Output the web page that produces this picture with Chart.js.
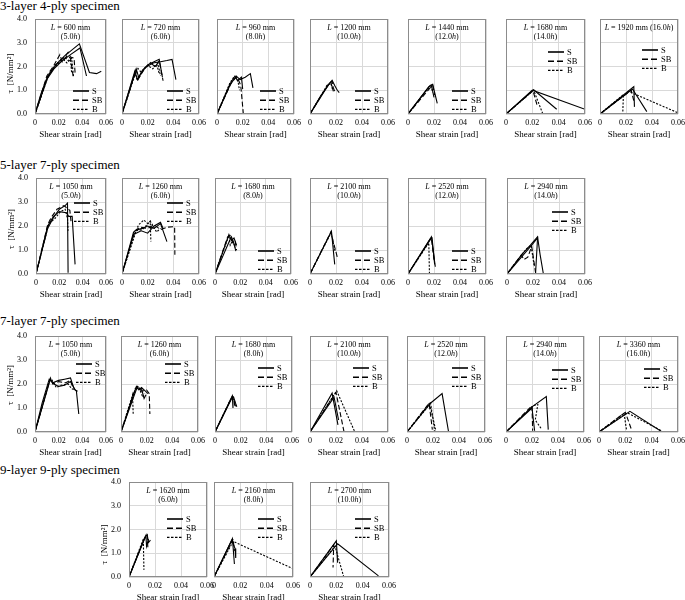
<!DOCTYPE html>
<html>
<head>
<meta charset="utf-8">
<script src="https://cdn.jsdelivr.net/npm/chart.js@4.4.1/dist/chart.umd.min.js"></script>
<style>
html, body { margin: 0; padding: 0; background: #fff; }
#wrap { position: relative; width: 685px; height: 600px; overflow: hidden; font-family: 'Liberation Serif', 'Times New Roman', serif; }
.sec { position: absolute; left: 0; font-size: 13px; line-height: 13px; color: #000; white-space: nowrap; }
canvas { position: absolute; }
</style>
</head>
<body>
<div id="wrap"></div>
<script>
// axis ticks and legend
const xTickVals = [0, 0.02, 0.04, 0.06];
const xTickLabels = ['0', '0.02', '0.04', '0.06'];
const yTickVals = [0, 1, 2, 3, 4];
const yTickLabels = ['0.0', '1.0', '2.0', '3.0', '4.0'];
const legendLabels = ['S', 'SB', 'B'];
const rowTitles = ['3-layer 4-ply specimen', '5-layer 7-ply specimen', '7-layer 7-ply specimen', '9-layer 9-ply specimen'];

const row1Lengths = [600, 720, 960, 1200, 1440, 1680, 1920];
const row1Ratios = ['5.0', '6.0', '8.0', '10.0', '12.0', '14.0', '16.0'];
const row2Lengths = [1050, 1260, 1680, 2100, 2520, 2940];
const row2Ratios = ['5.0', '6.0', '8.0', '10.0', '12.0', '14.0'];
const row3Lengths = [1050, 1260, 1680, 2100, 2520, 2940, 3360];
const row3Ratios = ['5.0', '6.0', '8.0', '10.0', '12.0', '14.0', '16.0'];
const row4Lengths = [1620, 2160, 2700];
const row4Ratios = ['6.0', '8.0', '10.0'];

// curves: [shear strain, tau]
const r1_600_S = [
  [[0,0],[0.005,0.85],[0.01,1.5],[0.015,1.9],[0.02,2.2],[0.025,2.45],[0.03,2.65],[0.0375,2.95],[0.046,1.75],[0.052,1.7],[0.056,1.8]],
  [[0,0],[0.01,1.45],[0.016,1.9],[0.022,2.2],[0.03,2.5],[0.038,2.78],[0.0435,1.6]]
];
const r1_600_SB = [
  [[0,0],[0.01,1.6],[0.016,2.05],[0.021,2.5],[0.023,2.2],[0.027,2.45],[0.03,2.35],[0.0325,1.5]],
  [[0,0],[0.011,1.6],[0.018,2.1],[0.024,2.35],[0.028,2.6],[0.03,2.4],[0.033,2.35],[0.034,1.65]]
];
const r1_600_B = [
  [[0,0],[0.01,1.5],[0.016,2.0],[0.021,2.25],[0.025,2.4],[0.028,2.25],[0.031,2.35],[0.0325,1.6]],
  [[0,0],[0.012,1.7],[0.018,2.05],[0.024,2.3],[0.027,2.15],[0.03,2.3],[0.031,1.7]]
];
const r1_720_S = [
  [[0,0],[0.011,1.9],[0.013,1.55],[0.018,1.95],[0.024,2.15],[0.03,2.2],[0.035,2.25],[0.039,2.3],[0.042,1.45]],
  [[0,0],[0.01,1.8],[0.012,1.45],[0.016,1.85],[0.021,2.1],[0.025,2.2],[0.029,2.3],[0.0315,1.55]]
];
const r1_720_SB = [
  [[0,0],[0.011,1.85],[0.013,1.5],[0.018,1.95],[0.022,2.15],[0.026,2.0],[0.029,2.25],[0.032,1.4]]
];
const r1_720_B = [
  [[0,0],[0.01,1.75],[0.012,1.4],[0.017,1.9],[0.023,2.2],[0.026,1.95],[0.028,2.15],[0.03,1.6]],
  [[0,0],[0.012,1.95],[0.015,1.75],[0.02,2.05],[0.024,1.9],[0.027,2.1],[0.029,1.7]]
];
const r1_960_S = [
  [[0,0],[0.01,1.2],[0.015,1.6],[0.018,1.45],[0.022,1.55],[0.026,1.7],[0.028,1.1]],
  [[0,0],[0.01,1.25],[0.014,1.6],[0.016,1.4],[0.019,1.55],[0.02,1.05]]
];
const r1_960_SB = [
  [[0,0],[0.011,1.3],[0.015,1.55],[0.017,1.4],[0.0185,1.2],[0.0205,0.02]]
];
const r1_960_B = [
  [[0,0],[0.01,1.3],[0.013,1.55],[0.016,1.5],[0.0175,1.0]]
];
const r1_1200_S = [
  [[0,0],[0.008,0.75],[0.014,1.2],[0.017,1.42],[0.019,1.2],[0.021,1.0],[0.0225,0.9]],
  [[0,0],[0.015,1.3],[0.016,1.35],[0.018,0.95]]
];
const r1_1200_SB = [
  [[0,0],[0.014,1.25],[0.017,1.38],[0.018,1.1],[0.019,0.95]]
];
const r1_1200_B = [
  [[0,0],[0.013,1.2],[0.016,1.3],[0.0175,1.0]]
];
const r1_1440_S = [
  [[0,0],[0.017,1.2],[0.019,1.25],[0.0225,0.45]],
  [[0,0],[0.016,1.15],[0.018,1.2],[0.02,0.7]]
];
const r1_1440_SB = [
  [[0,0],[0.017,1.1],[0.019,1.2],[0.0205,0.8]]
];
const r1_1440_B = [
  [[0,0],[0.015,1.05],[0.018,1.15],[0.019,0.9]]
];
const r1_1680_S = [
  [[0,0],[0.02,1.0],[0.06,0.2]],
  [[0,0],[0.021,1.02],[0.0385,0.2]]
];
const r1_1680_SB = [
  [[0,0],[0.0205,0.98],[0.024,0.3]]
];
const r1_1680_B = [
  [[0,0],[0.021,1.0],[0.028,0.0]]
];
const r1_1920_S = [
  [[0,0],[0.026,1.15],[0.0265,0.3]],
  [[0,0],[0.025,1.05],[0.036,0.1]]
];
const r1_1920_SB = [
  [[0,0],[0.024,1.0],[0.026,0.55]]
];
const r1_1920_B = [
  [[0,0],[0.018,0.82],[0.0175,0.0]],
  [[0,0],[0.022,0.95],[0.06,0.05]]
];

const r2_1050_S = [
  [[0,0],[0.01,1.9],[0.015,2.35],[0.02,2.7],[0.025,2.85],[0.027,2.95],[0.0275,0.05]],
  [[0,0],[0.01,2.0],[0.015,2.4],[0.02,2.6],[0.026,2.55],[0.028,2.4],[0.031,2.4],[0.0335,0.4]]
];
const r2_1050_SB = [
  [[0,0],[0.01,2.05],[0.013,2.35],[0.018,2.7],[0.024,2.85],[0.029,2.65],[0.03,2.2]]
];
const r2_1050_B = [
  [[0,0],[0.011,2.1],[0.016,2.3],[0.021,2.6],[0.025,2.7],[0.027,2.3],[0.0275,1.8]]
];
const r2_1260_S = [
  [[0,0],[0.009,1.75],[0.012,1.85],[0.016,1.9],[0.02,2.0],[0.025,1.9],[0.03,2.1],[0.035,1.35]],
  [[0,0],[0.009,1.65],[0.015,1.8],[0.02,1.7],[0.025,2.0],[0.03,2.15],[0.032,1.9]]
];
const r2_1260_SB = [
  [[0,0],[0.01,1.8],[0.014,1.95],[0.02,1.9],[0.025,2.05],[0.03,1.85],[0.035,1.95],[0.041,1.97],[0.0412,0.8]]
];
const r2_1260_B = [
  [[0,0],[0.01,1.7],[0.013,2.05],[0.017,2.25],[0.02,2.1],[0.022,2.2],[0.0225,1.35]],
  [[0,0],[0.011,1.8],[0.016,1.85],[0.022,2.2],[0.027,1.75],[0.03,1.9]]
];
const r2_1680_S = [
  [[0,0],[0.011,1.65],[0.013,1.4],[0.015,1.5],[0.017,1.2]],
  [[0,0],[0.012,1.45],[0.013,1.55],[0.015,1.25],[0.0165,0.95]]
];
const r2_1680_SB = [
  [[0,0],[0.01,1.55],[0.012,1.6],[0.014,1.3],[0.016,1.35],[0.017,1.0]]
];
const r2_1680_B = [
  [[0,0],[0.011,1.6],[0.012,1.2],[0.014,1.4],[0.016,1.1]]
];
const r2_2100_S = [
  [[0,0],[0.0165,1.78],[0.019,0.4]]
];
const r2_2100_SB = [
  [[0,0],[0.016,1.75],[0.021,0.7]]
];
const r2_2100_B = [
  [[0,0],[0.0162,1.72],[0.0195,0.9]]
];
const r2_2520_S = [
  [[0,0],[0.018,1.55],[0.021,0.3]],
  [[0,0],[0.017,1.45],[0.0185,1.5],[0.0205,0.4]]
];
const r2_2520_SB = [
  [[0,0],[0.018,1.5],[0.02,0.6]]
];
const r2_2520_B = [
  [[0,0],[0.016,1.3],[0.0165,0.0]]
];
const r2_2940_S = [
  [[0,0],[0.012,0.85],[0.018,1.2],[0.0235,1.55],[0.0255,0.8],[0.028,0.0]],
  [[0,0],[0.019,1.2],[0.0235,1.5],[0.022,0.05]]
];
const r2_2940_SB = [
  [[0,0],[0.011,0.8],[0.013,0.6],[0.016,0.7],[0.019,1.15],[0.022,0.05]]
];
const r2_2940_B = [
  [[0,0],[0.012,0.85],[0.015,1.05],[0.0185,1.2],[0.021,0.3]]
];

const r3_1050_S = [
  [[0,0],[0.006,1.2],[0.012,2.2],[0.015,2.05],[0.02,2.15],[0.025,2.2],[0.03,2.25],[0.033,1.8],[0.035,1.7],[0.037,0.75]],
  [[0,0],[0.013,2.2],[0.016,2.0],[0.02,1.9],[0.025,1.95],[0.03,2.1],[0.034,1.75],[0.036,1.7]]
];
const r3_1050_SB = [
  [[0,0],[0.013,2.25],[0.015,2.0],[0.02,2.1],[0.026,2.05],[0.03,2.15],[0.032,1.85]]
];
const r3_1050_B = [
  [[0,0],[0.012,2.1],[0.014,2.2],[0.018,1.85],[0.022,1.95],[0.028,2.0],[0.031,1.8],[0.034,1.75]]
];
const r3_1260_S = [
  [[0,0],[0.012,1.9],[0.014,1.75],[0.016,1.85],[0.019,1.7],[0.021,1.6]],
  [[0,0],[0.0125,1.85],[0.016,1.8],[0.018,1.4],[0.0195,1.55]]
];
const r3_1260_SB = [
  [[0,0],[0.011,1.8],[0.013,1.9],[0.016,1.7],[0.02,1.75],[0.022,1.6],[0.0225,0.75]]
];
const r3_1260_B = [
  [[0,0],[0.009,1.55],[0.0095,0.75]],
  [[0,0],[0.011,1.75],[0.014,1.85],[0.017,1.45],[0.0185,1.6]]
];
const r3_1680_S = [
  [[0,0],[0.0135,1.5],[0.014,1.0]],
  [[0,0],[0.013,1.4],[0.0145,1.45],[0.016,1.2],[0.017,1.05]]
];
const r3_1680_SB = [
  [[0,0],[0.0135,1.5],[0.015,1.3],[0.0155,1.0]]
];
const r3_1680_B = [
  [[0,0],[0.0125,1.4],[0.015,1.35],[0.016,1.05]]
];
const r3_2100_S = [
  [[0,0],[0.017,1.62],[0.0215,0.3]],
  [[0,0],[0.0185,1.45],[0.022,0.5]]
];
const r3_2100_SB = [
  [[0,0],[0.02,1.65],[0.0262,0.0]]
];
const r3_2100_B = [
  [[0,0],[0.0205,1.72],[0.0345,0.0]]
];
const r3_2520_S = [
  [[0,0],[0.018,1.2],[0.027,1.6],[0.032,0.0]]
];
const r3_2520_SB = [
  [[0,0],[0.017,1.2],[0.0195,0.1]]
];
const r3_2520_B = [
  [[0,0],[0.018,1.25],[0.0215,0.0]],
  [[0,0],[0.0175,1.15],[0.022,0.1]]
];
const r3_2940_S = [
  [[0,0],[0.02,1.05],[0.031,1.48],[0.0325,0.1]],
  [[0,0],[0.02,1.0],[0.022,0.05]]
];
const r3_2940_SB = [
  [[0,0],[0.02,1.1],[0.0205,0.05]]
];
const r3_2940_B = [
  [[0,0],[0.021,1.1],[0.0245,1.15],[0.0225,0.5],[0.027,0.15]]
];
const r3_3360_S = [
  [[0,0],[0.0235,0.86],[0.048,0.0]]
];
const r3_3360_SB = [
  [[0,0],[0.02,0.82],[0.025,0.05]]
];
const r3_3360_B = [
  [[0,0],[0.0215,0.8],[0.0475,0.05]],
  [[0,0],[0.019,0.78],[0.021,0.05]]
];

const r4_1620_S = [
  [[0,0],[0.0125,1.7],[0.014,1.78],[0.015,1.45],[0.0165,1.55]],
  [[0,0],[0.013,1.75],[0.0135,1.3],[0.015,1.6]]
];
const r4_1620_SB = [
  [[0,0],[0.012,1.65],[0.014,1.75],[0.0145,1.25]]
];
const r4_1620_B = [
  [[0,0],[0.011,1.6],[0.0115,0.3]]
];
const r4_2160_S = [
  [[0,0],[0.014,1.62],[0.0155,0.55]],
  [[0,0],[0.0135,1.55],[0.016,1.2],[0.0165,0.8]]
];
const r4_2160_SB = [
  [[0,0],[0.0145,1.6],[0.0155,1.1]]
];
const r4_2160_B = [
  [[0,0],[0.0145,1.5],[0.06,0.35]]
];
const r4_2700_S = [
  [[0,0],[0.021,1.4],[0.052,0.05]],
  [[0,0],[0.02,1.52],[0.021,0.6]]
];
const r4_2700_SB = [
  [[0,0],[0.018,1.35],[0.0175,0.4]]
];
const r4_2700_B = [
  [[0,0],[0.019,1.3],[0.0205,1.0],[0.0255,0.03]]
];

const row1Data = [[r1_600_S, r1_600_SB, r1_600_B], [r1_720_S, r1_720_SB, r1_720_B], [r1_960_S, r1_960_SB, r1_960_B],
  [r1_1200_S, r1_1200_SB, r1_1200_B], [r1_1440_S, r1_1440_SB, r1_1440_B], [r1_1680_S, r1_1680_SB, r1_1680_B], [r1_1920_S, r1_1920_SB, r1_1920_B]];
const row2Data = [[r2_1050_S, r2_1050_SB, r2_1050_B], [r2_1260_S, r2_1260_SB, r2_1260_B], [r2_1680_S, r2_1680_SB, r2_1680_B],
  [r2_2100_S, r2_2100_SB, r2_2100_B], [r2_2520_S, r2_2520_SB, r2_2520_B], [r2_2940_S, r2_2940_SB, r2_2940_B]];
const row3Data = [[r3_1050_S, r3_1050_SB, r3_1050_B], [r3_1260_S, r3_1260_SB, r3_1260_B], [r3_1680_S, r3_1680_SB, r3_1680_B],
  [r3_2100_S, r3_2100_SB, r3_2100_B], [r3_2520_S, r3_2520_SB, r3_2520_B], [r3_2940_S, r3_2940_SB, r3_2940_B], [r3_3360_S, r3_3360_SB, r3_3360_B]];
const row4Data = [[r4_1620_S, r4_1620_SB, r4_1620_B], [r4_2160_S, r4_2160_SB, r4_2160_B], [r4_2700_S, r4_2700_SB, r4_2700_B]];

// layout (pixels)
const rows = [
  { title: 9.5, top: 19, bottom: 114, yTitleShift: 7, lefts: [35, 122, 217, 310, 408, 506, 600], rights: [106, 199, 294, 388, 486, 585, 678],
    leg: [[38, 72], [45, 72], [43, 72], [45, 72], [44, 72], [42, 33], [42, 31]], lengths: row1Lengths, ratios: row1Ratios, data: row1Data },
  { title: 168.5, top: 178, bottom: 274, yTitleShift: 3, lefts: [36, 122, 215, 310, 408, 507], rights: [106, 199, 291, 388, 486, 585],
    leg: [[38, 25], [45, 25], [43, 73], [45, 73], [44, 73], [45, 34]], lengths: row2Lengths, ratios: row2Ratios, data: row2Data },
  { title: 325, top: 336, bottom: 432, yTitleShift: 1, lefts: [35, 121, 215, 310, 407, 506, 599], rights: [106, 198, 292, 388, 485, 584, 678],
    leg: [[41, 28], [44, 28], [43, 32], [43, 32], [45, 32], [46, 34], [45, 33]], lengths: row3Lengths, ratios: row3Ratios, data: row3Data },
  { title: 474, top: 482, bottom: 577, yTitleShift: 15, lefts: [129, 214, 310], rights: [207, 293, 389],
    leg: [[38, 37], [44, 37], [45, 37]], lengths: row4Lengths, ratios: row4Ratios, data: row4Data }
];

const FONT = "'Liberation Serif', 'Times New Roman', serif";
const dashes = [[], [5, 2.5], [2, 1.5]];
const wrap = document.getElementById('wrap');

function drawRich(ctx, parts, cx, cy, size) {
  let w = 0;
  parts.forEach(([t, it]) => { ctx.font = (it ? 'italic ' : '') + size + 'px ' + FONT; w += ctx.measureText(t).width; });
  let x = cx - w / 2;
  parts.forEach(([t, it]) => {
    ctx.font = (it ? 'italic ' : '') + size + 'px ' + FONT;
    ctx.fillText(t, x, cy);
    x += ctx.measureText(t).width;
  });
}

function makePanel(p) {
  const yW = p.yAxis ? 35 : 0;
  const padL = p.yAxis ? 0 : 10, padR = 12, padT = 16, xH = 26;
  const plotW = p.right - p.left, plotH = p.bottom - p.top;
  const canvas = document.createElement('canvas');
  canvas.width = padL + yW + plotW + padR;
  canvas.height = padT + plotH + xH;
  canvas.style.left = (p.left - yW - padL) + 'px';
  canvas.style.top = (p.top - padT) + 'px';
  wrap.appendChild(canvas);

  const datasets = [];
  p.series.forEach((curves, k) => {
    curves.forEach(c => {
      datasets.push({
        data: c.map(([x, y]) => ({ x, y })),
        showLine: true, borderColor: '#000', borderWidth: 1.1, borderDash: dashes[k],
        pointRadius: 0, fill: false
      });
    });
  });

  const deco = {
    id: 'deco',
    afterDraw(chart) {
      const a = chart.chartArea, ctx = chart.ctx;
      ctx.save();
      ctx.strokeStyle = '#8c8c8c';
      ctx.lineWidth = 1;
      ctx.strokeRect(Math.round(a.left) + 0.5, Math.round(a.top) + 0.5, Math.round(a.right - a.left) - 1, Math.round(a.bottom - a.top) - 1);
      ctx.fillStyle = '#000';
      ctx.textBaseline = 'middle';
      const cx = (a.left + a.right) / 2;
      if (p.oneLine) {
        drawRich(ctx, [['L', true], [' = ' + p.length + ' mm (' + p.ratio, false], ['h', true], [')', false]], cx, a.top + 9, 8);
      } else {
        drawRich(ctx, [['L', true], [' = ' + p.length + ' mm', false]], cx, a.top + 9, 8);
        drawRich(ctx, [['(' + p.ratio, false], ['h', true], [')', false]], cx, a.top + 17.5, 8);
      }
      // y axis title, a little below the middle like the source
      if (p.yAxis) {
        ctx.save();
        ctx.translate(a.left - 24, (a.top + a.bottom) / 2 + p.yTitleShift);
        ctx.rotate(-Math.PI / 2);
        ctx.textAlign = 'center';
        ctx.font = '9px ' + FONT;
        ctx.fillText('τ  [N/mm²]', 0, 0);
        ctx.restore();
      }
      // legend
      const lx = a.left + p.leg[0];
      legendLabels.forEach((lab, i) => {
        const ly = a.top + p.leg[1] + i * 9.2;
        ctx.beginPath();
        ctx.setLineDash(i === 0 ? [] : (i === 1 ? [6, 3] : [2.5, 1.5]));
        ctx.lineWidth = i === 2 ? 1.2 : 1.6;
        ctx.strokeStyle = '#000';
        ctx.moveTo(lx, ly);
        ctx.lineTo(lx + 16, ly);
        ctx.stroke();
        ctx.setLineDash([]);
        ctx.font = '8.5px ' + FONT;
        ctx.textAlign = 'left';
        ctx.fillText(lab, lx + 19, ly + 0.5);
      });
      ctx.restore();
    }
  };

  new Chart(canvas.getContext('2d'), {
    type: 'scatter',
    data: { datasets },
    options: {
      responsive: false, animation: false, devicePixelRatio: 1,
      layout: { padding: { left: padL, right: padR, top: padT, bottom: 0 } },
      plugins: { legend: { display: false }, tooltip: { enabled: false } },
      scales: {
        x: {
          type: 'linear', min: 0, max: 0.06,
          afterBuildTicks: s => { s.ticks = xTickVals.map(v => ({ value: v })); },
          ticks: { callback: (v, i) => xTickLabels[i], font: { family: FONT, size: 8 }, color: '#000', padding: 4, maxRotation: 0, autoSkip: false },
          grid: { color: '#d9d9d9', drawTicks: false, lineWidth: 1 },
          border: { display: false },
          title: { display: true, text: 'Shear strain [rad]', font: { family: FONT, size: 9 }, color: '#000', padding: 0 },
          afterFit: s => { s.height = xH; }
        },
        y: {
          min: 0, max: 4,
          afterBuildTicks: s => { s.ticks = yTickVals.map(v => ({ value: v })); },
          ticks: { display: p.yAxis, callback: (v, i) => yTickLabels[i], font: { family: FONT, size: 8 }, color: '#000', padding: 8 },
          grid: { color: '#d9d9d9', drawTicks: false, lineWidth: 1 },
          border: { display: false },
          title: { display: false },
          afterFit: s => { s.width = yW; }
        }
      }
    },
    plugins: [deco]
  });
}

rows.forEach((r, ri) => {
  const t = document.createElement('div');
  t.className = 'sec';
  t.textContent = rowTitles[ri];
  t.style.top = (r.title - 10.9) + 'px';
  wrap.appendChild(t);
  r.lefts.forEach((left, i) => {
    makePanel({
      left, right: r.rights[i], top: r.top, bottom: r.bottom,
      yAxis: i === 0, yTitleShift: r.yTitleShift, leg: r.leg[i],
      length: r.lengths[i], ratio: r.ratios[i], oneLine: r.lengths[i] === 1920,
      series: r.data[i]
    });
  });
});
</script>
</body>
</html>
